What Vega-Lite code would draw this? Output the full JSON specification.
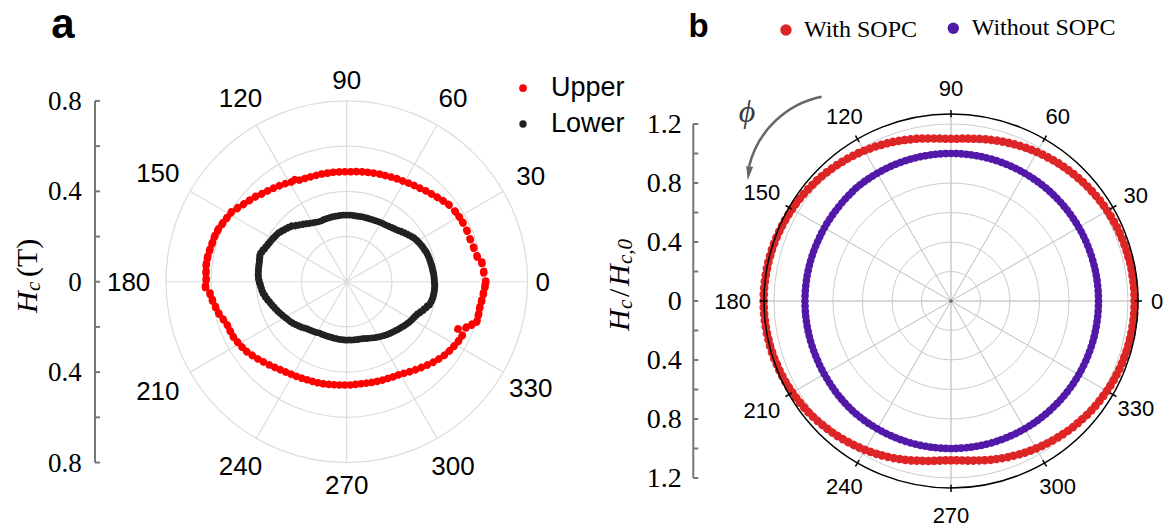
{
"$schema":"https://vega.github.io/schema/vega-lite/v6.json",
"width":1171,"height":529,"autosize":{"type":"none"},"padding":0,"background":"#ffffff",
"config":{"view":{"stroke":null}},
"datasets":{
"spokes":[{"a":0},{"a":30},{"a":60},{"a":90},{"a":120},{"a":150},{"a":180},{"a":210},{"a":240},{"a":270},{"a":300},{"a":330}],
"ringsA":[{"r":0.2},{"r":0.4},{"r":0.6},{"r":0.8}],
"ringsB":[{"r":0.2},{"r":0.4},{"r":0.6},{"r":0.8},{"r":1.0},{"r":1.2}],
"one":[{}],
"axA":[{"lo":-0.8,"hi":0.8}],
"axB":[{"lo":-1.2,"hi":1.2}],
"ticksA":[{"v":-0.8,"t":"0.8"},{"v":-0.6,"t":""},{"v":-0.4,"t":"0.4"},{"v":-0.2,"t":""},{"v":0,"t":"0"},{"v":0.2,"t":""},{"v":0.4,"t":"0.4"},{"v":0.6,"t":""},{"v":0.8,"t":"0.8"}],
"ticksB":[{"v":-1.2,"t":"1.2"},{"v":-1,"t":""},{"v":-0.8,"t":"0.8"},{"v":-0.6,"t":""},{"v":-0.4,"t":"0.4"},{"v":-0.2,"t":""},{"v":0,"t":"0"},{"v":0.2,"t":""},{"v":0.4,"t":"0.4"},{"v":0.6,"t":""},{"v":0.8,"t":"0.8"},{"v":1,"t":""},{"v":1.2,"t":"1.2"}],
"upper":[{"a":0,"r":0.615},{"a":4,"r":0.608},{"a":8,"r":0.604},{"a":11,"r":0.588},{"a":15,"r":0.582},{"a":19,"r":0.578},{"a":23,"r":0.578},{"a":27,"r":0.577},{"a":30,"r":0.575},{"a":33,"r":0.572},{"a":37,"r":0.566},{"a":40,"r":0.557},{"a":43,"r":0.548},{"a":46,"r":0.54},{"a":49,"r":0.533},{"a":52,"r":0.526},{"a":55,"r":0.52},{"a":58,"r":0.515},{"a":61,"r":0.51},{"a":64,"r":0.507},{"a":67,"r":0.503},{"a":70,"r":0.5},{"a":73,"r":0.498},{"a":76,"r":0.495},{"a":79,"r":0.493},{"a":82,"r":0.491},{"a":85,"r":0.489},{"a":88,"r":0.487},{"a":91,"r":0.487},{"a":94,"r":0.487},{"a":97,"r":0.488},{"a":100,"r":0.488},{"a":103,"r":0.489},{"a":106,"r":0.49},{"a":109,"r":0.491},{"a":112,"r":0.493},{"a":115,"r":0.496},{"a":117,"r":0.507},{"a":119,"r":0.505},{"a":122,"r":0.512},{"a":125,"r":0.519},{"a":128,"r":0.526},{"a":131,"r":0.533},{"a":134,"r":0.541},{"a":137,"r":0.552},{"a":140,"r":0.561},{"a":143,"r":0.571},{"a":146,"r":0.583},{"a":149,"r":0.596},{"a":152,"r":0.601},{"a":155,"r":0.607},{"a":158,"r":0.614},{"a":161,"r":0.618},{"a":164,"r":0.619},{"a":167,"r":0.622},{"a":170,"r":0.625},{"a":173,"r":0.626},{"a":176,"r":0.624},{"a":179,"r":0.622},{"a":182,"r":0.625},{"a":185,"r":0.607},{"a":188,"r":0.6},{"a":191,"r":0.591},{"a":194,"r":0.583},{"a":197,"r":0.571},{"a":200,"r":0.562},{"a":203,"r":0.56},{"a":206,"r":0.558},{"a":209,"r":0.552},{"a":212,"r":0.546},{"a":215,"r":0.54},{"a":218,"r":0.53},{"a":221,"r":0.521},{"a":224,"r":0.512},{"a":227,"r":0.503},{"a":230,"r":0.495},{"a":233,"r":0.488},{"a":236,"r":0.482},{"a":239,"r":0.477},{"a":242,"r":0.474},{"a":245,"r":0.471},{"a":248,"r":0.468},{"a":251,"r":0.466},{"a":254,"r":0.465},{"a":257,"r":0.463},{"a":260,"r":0.461},{"a":263,"r":0.459},{"a":266,"r":0.458},{"a":269,"r":0.457},{"a":272,"r":0.457},{"a":275,"r":0.456},{"a":278,"r":0.456},{"a":281,"r":0.457},{"a":284,"r":0.459},{"a":287,"r":0.461},{"a":290,"r":0.463},{"a":293,"r":0.465},{"a":296,"r":0.468},{"a":299,"r":0.471},{"a":302,"r":0.478},{"a":305,"r":0.486},{"a":308,"r":0.494},{"a":311,"r":0.503},{"a":314,"r":0.513},{"a":317,"r":0.523},{"a":320,"r":0.532},{"a":323,"r":0.541},{"a":326,"r":0.548},{"a":329,"r":0.554},{"a":332,"r":0.56},{"a":335,"r":0.564},{"a":337,"r":0.535},{"a":339,"r":0.566},{"a":341,"r":0.585},{"a":343,"r":0.602},{"a":346,"r":0.601},{"a":349,"r":0.6},{"a":352,"r":0.603},{"a":355,"r":0.607},{"a":358,"r":0.612}],
"lower":[{"a":0,"r":0.388},{"a":2.5,"r":0.387},{"a":5,"r":0.386},{"a":7.5,"r":0.384},{"a":10,"r":0.383},{"a":12.5,"r":0.381},{"a":15,"r":0.38},{"a":17.5,"r":0.378},{"a":20,"r":0.376},{"a":22.5,"r":0.372},{"a":25,"r":0.369},{"a":27.5,"r":0.365},{"a":30,"r":0.361},{"a":32.5,"r":0.356},{"a":35,"r":0.349},{"a":37.5,"r":0.342},{"a":40,"r":0.335},{"a":42.5,"r":0.328},{"a":45,"r":0.321},{"a":47.5,"r":0.316},{"a":50,"r":0.312},{"a":52.5,"r":0.308},{"a":55,"r":0.305},{"a":57.5,"r":0.303},{"a":60,"r":0.302},{"a":62.5,"r":0.3},{"a":65,"r":0.298},{"a":67.5,"r":0.297},{"a":70,"r":0.296},{"a":72.5,"r":0.296},{"a":75,"r":0.295},{"a":77.5,"r":0.295},{"a":80,"r":0.294},{"a":82.5,"r":0.294},{"a":85,"r":0.295},{"a":87.5,"r":0.295},{"a":90,"r":0.295},{"a":92.5,"r":0.295},{"a":95,"r":0.295},{"a":97.5,"r":0.294},{"a":100,"r":0.294},{"a":102.5,"r":0.294},{"a":105,"r":0.293},{"a":107.5,"r":0.293},{"a":110,"r":0.293},{"a":112.5,"r":0.292},{"a":115,"r":0.293},{"a":117.5,"r":0.297},{"a":120,"r":0.301},{"a":122.5,"r":0.306},{"a":125,"r":0.313},{"a":127.5,"r":0.32},{"a":130,"r":0.328},{"a":132.5,"r":0.336},{"a":135,"r":0.347},{"a":137.5,"r":0.353},{"a":140,"r":0.359},{"a":142.5,"r":0.366},{"a":145,"r":0.372},{"a":147.5,"r":0.375},{"a":150,"r":0.379},{"a":152.5,"r":0.382},{"a":155,"r":0.386},{"a":157.5,"r":0.391},{"a":160,"r":0.397},{"a":162.5,"r":0.402},{"a":165,"r":0.399},{"a":167.5,"r":0.396},{"a":170,"r":0.395},{"a":172.5,"r":0.394},{"a":175,"r":0.393},{"a":177.5,"r":0.391},{"a":180,"r":0.387},{"a":182.5,"r":0.382},{"a":185,"r":0.378},{"a":187.5,"r":0.374},{"a":190,"r":0.367},{"a":192.5,"r":0.36},{"a":195,"r":0.352},{"a":197.5,"r":0.346},{"a":200,"r":0.339},{"a":202.5,"r":0.333},{"a":205,"r":0.327},{"a":207.5,"r":0.321},{"a":210,"r":0.315},{"a":212.5,"r":0.31},{"a":215,"r":0.306},{"a":217.5,"r":0.301},{"a":220,"r":0.295},{"a":222.5,"r":0.289},{"a":225,"r":0.284},{"a":227.5,"r":0.278},{"a":230,"r":0.272},{"a":232.5,"r":0.269},{"a":235,"r":0.266},{"a":237.5,"r":0.263},{"a":240,"r":0.26},{"a":242.5,"r":0.257},{"a":245,"r":0.257},{"a":247.5,"r":0.256},{"a":250,"r":0.256},{"a":252.5,"r":0.255},{"a":255,"r":0.255},{"a":257.5,"r":0.256},{"a":260,"r":0.256},{"a":262.5,"r":0.257},{"a":265,"r":0.257},{"a":267.5,"r":0.258},{"a":270,"r":0.258},{"a":272.5,"r":0.258},{"a":275,"r":0.259},{"a":277.5,"r":0.259},{"a":280,"r":0.26},{"a":282.5,"r":0.26},{"a":285,"r":0.261},{"a":287.5,"r":0.263},{"a":290,"r":0.267},{"a":292.5,"r":0.27},{"a":295,"r":0.274},{"a":297.5,"r":0.278},{"a":300,"r":0.282},{"a":302.5,"r":0.286},{"a":305,"r":0.29},{"a":307.5,"r":0.294},{"a":310,"r":0.298},{"a":312.5,"r":0.302},{"a":315,"r":0.306},{"a":317.5,"r":0.311},{"a":320,"r":0.315},{"a":322.5,"r":0.32},{"a":325,"r":0.325},{"a":327.5,"r":0.33},{"a":330,"r":0.334},{"a":332.5,"r":0.338},{"a":335,"r":0.343},{"a":337.5,"r":0.352},{"a":340,"r":0.362},{"a":342.5,"r":0.371},{"a":345,"r":0.381},{"a":347.5,"r":0.385},{"a":350,"r":0.388},{"a":352.5,"r":0.389},{"a":355,"r":0.39},{"a":357.5,"r":0.39}],
"withS":[{"a":0,"r":1.245},{"a":2,"r":1.245},{"a":4,"r":1.245},{"a":6,"r":1.244},{"a":8,"r":1.243},{"a":10,"r":1.243},{"a":12,"r":1.242},{"a":14,"r":1.24},{"a":16,"r":1.239},{"a":18,"r":1.237},{"a":20,"r":1.235},{"a":22,"r":1.233},{"a":24,"r":1.231},{"a":26,"r":1.229},{"a":28,"r":1.226},{"a":30,"r":1.224},{"a":32,"r":1.221},{"a":34,"r":1.218},{"a":36,"r":1.215},{"a":38,"r":1.211},{"a":40,"r":1.208},{"a":42,"r":1.204},{"a":44,"r":1.2},{"a":46,"r":1.196},{"a":48,"r":1.192},{"a":50,"r":1.188},{"a":52,"r":1.184},{"a":54,"r":1.18},{"a":56,"r":1.175},{"a":58,"r":1.17},{"a":60,"r":1.166},{"a":62,"r":1.161},{"a":64,"r":1.156},{"a":66,"r":1.151},{"a":68,"r":1.146},{"a":70,"r":1.141},{"a":72,"r":1.136},{"a":74,"r":1.131},{"a":76,"r":1.126},{"a":78,"r":1.121},{"a":80,"r":1.116},{"a":82,"r":1.111},{"a":84,"r":1.107},{"a":86,"r":1.104},{"a":88,"r":1.101},{"a":90,"r":1.1},{"a":92,"r":1.101},{"a":94,"r":1.104},{"a":96,"r":1.108},{"a":98,"r":1.113},{"a":100,"r":1.119},{"a":102,"r":1.125},{"a":104,"r":1.13},{"a":106,"r":1.136},{"a":108,"r":1.142},{"a":110,"r":1.148},{"a":112,"r":1.154},{"a":114,"r":1.16},{"a":116,"r":1.166},{"a":118,"r":1.171},{"a":120,"r":1.177},{"a":122,"r":1.183},{"a":124,"r":1.188},{"a":126,"r":1.193},{"a":128,"r":1.198},{"a":130,"r":1.203},{"a":132,"r":1.208},{"a":134,"r":1.213},{"a":136,"r":1.218},{"a":138,"r":1.222},{"a":140,"r":1.226},{"a":142,"r":1.23},{"a":144,"r":1.234},{"a":146,"r":1.238},{"a":148,"r":1.242},{"a":150,"r":1.245},{"a":152,"r":1.248},{"a":154,"r":1.251},{"a":156,"r":1.254},{"a":158,"r":1.256},{"a":160,"r":1.259},{"a":162,"r":1.261},{"a":164,"r":1.263},{"a":166,"r":1.264},{"a":168,"r":1.266},{"a":170,"r":1.267},{"a":172,"r":1.268},{"a":174,"r":1.269},{"a":176,"r":1.27},{"a":178,"r":1.27},{"a":180,"r":1.27},{"a":182,"r":1.27},{"a":184,"r":1.27},{"a":186,"r":1.269},{"a":188,"r":1.268},{"a":190,"r":1.267},{"a":192,"r":1.265},{"a":194,"r":1.264},{"a":196,"r":1.262},{"a":198,"r":1.26},{"a":200,"r":1.257},{"a":202,"r":1.255},{"a":204,"r":1.252},{"a":206,"r":1.249},{"a":208,"r":1.246},{"a":210,"r":1.242},{"a":212,"r":1.238},{"a":214,"r":1.234},{"a":216,"r":1.23},{"a":218,"r":1.226},{"a":220,"r":1.221},{"a":222,"r":1.216},{"a":224,"r":1.211},{"a":226,"r":1.206},{"a":228,"r":1.201},{"a":230,"r":1.196},{"a":232,"r":1.19},{"a":234,"r":1.184},{"a":236,"r":1.178},{"a":238,"r":1.172},{"a":240,"r":1.166},{"a":242,"r":1.16},{"a":244,"r":1.153},{"a":246,"r":1.147},{"a":248,"r":1.14},{"a":250,"r":1.134},{"a":252,"r":1.127},{"a":254,"r":1.121},{"a":256,"r":1.114},{"a":258,"r":1.107},{"a":260,"r":1.101},{"a":262,"r":1.095},{"a":264,"r":1.089},{"a":266,"r":1.085},{"a":268,"r":1.081},{"a":270,"r":1.08},{"a":272,"r":1.081},{"a":274,"r":1.084},{"a":276,"r":1.088},{"a":278,"r":1.093},{"a":280,"r":1.098},{"a":282,"r":1.104},{"a":284,"r":1.11},{"a":286,"r":1.115},{"a":288,"r":1.121},{"a":290,"r":1.127},{"a":292,"r":1.132},{"a":294,"r":1.138},{"a":296,"r":1.144},{"a":298,"r":1.149},{"a":300,"r":1.155},{"a":302,"r":1.16},{"a":304,"r":1.165},{"a":306,"r":1.17},{"a":308,"r":1.175},{"a":310,"r":1.18},{"a":312,"r":1.185},{"a":314,"r":1.19},{"a":316,"r":1.194},{"a":318,"r":1.198},{"a":320,"r":1.203},{"a":322,"r":1.207},{"a":324,"r":1.21},{"a":326,"r":1.214},{"a":328,"r":1.217},{"a":330,"r":1.221},{"a":332,"r":1.224},{"a":334,"r":1.227},{"a":336,"r":1.229},{"a":338,"r":1.232},{"a":340,"r":1.234},{"a":342,"r":1.236},{"a":344,"r":1.238},{"a":346,"r":1.24},{"a":348,"r":1.241},{"a":350,"r":1.242},{"a":352,"r":1.243},{"a":354,"r":1.244},{"a":356,"r":1.245},{"a":358,"r":1.245}],
"withoutS":[{"a":0,"r":1},{"a":2,"r":1},{"a":4,"r":1},{"a":6,"r":1},{"a":8,"r":1},{"a":10,"r":1},{"a":12,"r":1},{"a":14,"r":1},{"a":16,"r":1},{"a":18,"r":1},{"a":20,"r":1},{"a":22,"r":1},{"a":24,"r":1},{"a":26,"r":1},{"a":28,"r":1},{"a":30,"r":1},{"a":32,"r":1},{"a":34,"r":1},{"a":36,"r":1},{"a":38,"r":1},{"a":40,"r":1},{"a":42,"r":1},{"a":44,"r":1},{"a":46,"r":1},{"a":48,"r":1},{"a":50,"r":1},{"a":52,"r":1},{"a":54,"r":1},{"a":56,"r":1},{"a":58,"r":1},{"a":60,"r":1},{"a":62,"r":1},{"a":64,"r":1},{"a":66,"r":1},{"a":68,"r":1},{"a":70,"r":1},{"a":72,"r":1},{"a":74,"r":1},{"a":76,"r":1},{"a":78,"r":1},{"a":80,"r":1},{"a":82,"r":1},{"a":84,"r":1},{"a":86,"r":1},{"a":88,"r":1},{"a":90,"r":1},{"a":92,"r":1},{"a":94,"r":1},{"a":96,"r":1},{"a":98,"r":1},{"a":100,"r":1},{"a":102,"r":1},{"a":104,"r":1},{"a":106,"r":1},{"a":108,"r":1},{"a":110,"r":1},{"a":112,"r":1},{"a":114,"r":1},{"a":116,"r":1},{"a":118,"r":1},{"a":120,"r":1},{"a":122,"r":1},{"a":124,"r":1},{"a":126,"r":1},{"a":128,"r":1},{"a":130,"r":1},{"a":132,"r":0.998},{"a":134,"r":0.997},{"a":136,"r":0.996},{"a":138,"r":0.995},{"a":140,"r":0.994},{"a":142,"r":0.993},{"a":144,"r":0.993},{"a":146,"r":0.992},{"a":148,"r":0.992},{"a":150,"r":0.991},{"a":152,"r":0.991},{"a":154,"r":0.99},{"a":156,"r":0.99},{"a":158,"r":0.99},{"a":160,"r":0.99},{"a":162,"r":0.99},{"a":164,"r":0.99},{"a":166,"r":0.99},{"a":168,"r":0.99},{"a":170,"r":0.99},{"a":172,"r":0.99},{"a":174,"r":0.99},{"a":176,"r":0.99},{"a":178,"r":0.99},{"a":180,"r":0.99},{"a":182,"r":0.99},{"a":184,"r":0.99},{"a":186,"r":0.99},{"a":188,"r":0.99},{"a":190,"r":0.99},{"a":192,"r":0.99},{"a":194,"r":0.99},{"a":196,"r":0.99},{"a":198,"r":0.99},{"a":200,"r":0.99},{"a":202,"r":0.99},{"a":204,"r":0.99},{"a":206,"r":0.991},{"a":208,"r":0.991},{"a":210,"r":0.992},{"a":212,"r":0.992},{"a":214,"r":0.993},{"a":216,"r":0.994},{"a":218,"r":0.995},{"a":220,"r":0.996},{"a":222,"r":0.997},{"a":224,"r":0.998},{"a":226,"r":0.999},{"a":228,"r":1},{"a":230,"r":1},{"a":232,"r":1},{"a":234,"r":1},{"a":236,"r":1},{"a":238,"r":1},{"a":240,"r":1},{"a":242,"r":1},{"a":244,"r":1},{"a":246,"r":1},{"a":248,"r":1},{"a":250,"r":1},{"a":252,"r":1},{"a":254,"r":1},{"a":256,"r":1},{"a":258,"r":1},{"a":260,"r":1},{"a":262,"r":1},{"a":264,"r":1},{"a":266,"r":1},{"a":268,"r":1},{"a":270,"r":1},{"a":272,"r":1},{"a":274,"r":1},{"a":276,"r":1},{"a":278,"r":1},{"a":280,"r":1},{"a":282,"r":1},{"a":284,"r":1},{"a":286,"r":1},{"a":288,"r":1},{"a":290,"r":1},{"a":292,"r":1},{"a":294,"r":1},{"a":296,"r":1},{"a":298,"r":1},{"a":300,"r":1},{"a":302,"r":1},{"a":304,"r":1},{"a":306,"r":1},{"a":308,"r":1},{"a":310,"r":1},{"a":312,"r":1},{"a":314,"r":1},{"a":316,"r":1},{"a":318,"r":1},{"a":320,"r":1},{"a":322,"r":1},{"a":324,"r":1},{"a":326,"r":1},{"a":328,"r":1},{"a":330,"r":1},{"a":332,"r":1},{"a":334,"r":1},{"a":336,"r":1},{"a":338,"r":1},{"a":340,"r":1},{"a":342,"r":1},{"a":344,"r":1},{"a":346,"r":1},{"a":348,"r":1},{"a":350,"r":1},{"a":352,"r":1},{"a":354,"r":1},{"a":356,"r":1},{"a":358,"r":1}]
},
"layer":[
{"layer":[
 {"data":{"name":"axA"},"mark":{"type":"rule","color":"#777777","strokeWidth":2},
  "encoding":{"x":{"datum":-1.1137,"type":"quantitative","scale":{"domain":[-1.534,3.647],"nice":false,"zero":false},"axis":null},
   "y":{"field":"lo","type":"quantitative","scale":{"domain":[-1.094,1.2465],"nice":false,"zero":false},"axis":null},
   "y2":{"field":"hi"}}},
 {"data":{"name":"ticksA"},"mark":{"type":"rule","color":"#777777","strokeWidth":2},
  "encoding":{"x":{"datum":-1.1137,"type":"quantitative","axis":null},"x2":{"datum":-1.0916},
   "y":{"field":"v","type":"quantitative","axis":null}}},
 {"data":{"name":"ticksA"},"mark":{"type":"text","font":"Liberation Serif","fontSize":27,"color":"#000000","align":"right","baseline":"middle","dy":1},
  "encoding":{"x":{"datum":-1.1726,"type":"quantitative","axis":null},
   "y":{"field":"v","type":"quantitative","axis":null},"text":{"field":"t","type":"nominal"}}},
 {"data":{"name":"ringsA"},"mark":{"type":"arc","filled":false,"stroke":"#dcdcdc","strokeWidth":1.2,"theta":0,"theta2":6.283185307179586},
  "encoding":{"x":{"datum":0,"type":"quantitative","axis":null},
   "y":{"datum":0,"type":"quantitative","axis":null},
   "radius":{"field":"r","type":"quantitative","stack":null,"scale":{"type":"linear","domain":[0,1],"range":[0,226],"zero":true,"nice":false}}}},
 {"data":{"name":"spokes"},"mark":{"type":"arc","filled":false,"stroke":"#dcdcdc","strokeWidth":1.2},
  "encoding":{"x":{"datum":0,"type":"quantitative","axis":null},"y":{"datum":0,"type":"quantitative","axis":null},
   "theta":{"field":"a","type":"quantitative","stack":null,"scale":{"domain":[90,-270],"range":[0,6.283185307179586],"nice":false,"zero":false}},
   "theta2":{"field":"a"},
   "radius":{"datum":0.8,"type":"quantitative"}}},
 {"data":{"name":"lower"},"mark":{"type":"arc","color":"#222222","thetaOffset":-0.05,"theta2Offset":0.05,"radiusOffset":3.4,"radius2Offset":-3.4,"cornerRadius":3.4},
  "encoding":{"x":{"datum":0,"type":"quantitative","axis":null},"y":{"datum":0,"type":"quantitative","axis":null},
   "theta":{"field":"a","type":"quantitative","stack":null},"theta2":{"field":"a"},"radius":{"field":"r","type":"quantitative","stack":null},"radius2":{"field":"r"}}},
 {"data":{"name":"upper"},"mark":{"type":"arc","color":"#ff0000","thetaOffset":-0.033,"theta2Offset":0.033,"radiusOffset":3.8,"radius2Offset":-3.8,"cornerRadius":3.8},
  "encoding":{"x":{"datum":0,"type":"quantitative","axis":null},"y":{"datum":0,"type":"quantitative","axis":null},
   "theta":{"field":"a","type":"quantitative","stack":null},"theta2":{"field":"a"},"radius":{"field":"r","type":"quantitative","stack":null},"radius2":{"field":"r"}}},
 {"data":{"name":"spokes"},"transform":[{"filter":"datum.a == 0"}],"mark":{"type":"text","font":"Liberation Sans","fontSize":26,"color":"#000000","align":"center","baseline":"middle","dy":1.5},
  "encoding":{"x":{"datum":0,"type":"quantitative","axis":null},"y":{"datum":0,"type":"quantitative","axis":null},
   "theta":{"field":"a","type":"quantitative","stack":null},"radius":{"datum":0.867,"type":"quantitative"},"text":{"field":"a","type":"nominal"}}},
 {"data":{"name":"spokes"},"transform":[{"filter":"datum.a >= 150 && datum.a <= 210"}],"mark":{"type":"text","font":"Liberation Sans","fontSize":26,"color":"#000000","align":"center","baseline":"middle","dy":1.5},
  "encoding":{"x":{"datum":0,"type":"quantitative","axis":null},"y":{"datum":0,"type":"quantitative","axis":null},
   "theta":{"field":"a","type":"quantitative","stack":null},"radius":{"datum":0.965,"type":"quantitative"},"text":{"field":"a","type":"nominal"}}},
 {"data":{"name":"spokes"},"transform":[{"filter":"datum.a == 90 || datum.a == 270"}],"mark":{"type":"text","font":"Liberation Sans","fontSize":26,"color":"#000000","align":"center","baseline":"middle","dy":1.5},
  "encoding":{"x":{"datum":0,"type":"quantitative","axis":null},"y":{"datum":0,"type":"quantitative","axis":null},
   "theta":{"field":"a","type":"quantitative","stack":null},"radius":{"datum":0.896,"type":"quantitative"},"text":{"field":"a","type":"nominal"}}},
 {"data":{"name":"spokes"},"transform":[{"filter":"datum.a != 0 && datum.a != 90 && datum.a != 270 && (datum.a < 150 || datum.a > 210)"}],"mark":{"type":"text","font":"Liberation Sans","fontSize":26,"color":"#000000","align":"center","baseline":"middle","dy":1.5},
  "encoding":{"x":{"datum":0,"type":"quantitative","axis":null},"y":{"datum":0,"type":"quantitative","axis":null},
   "theta":{"field":"a","type":"quantitative","stack":null},"radius":{"datum":0.94,"type":"quantitative"},"text":{"field":"a","type":"nominal"}}},
 {"data":{"name":"one"},"mark":{"type":"text","text":"H","font":"Liberation Serif","fontStyle":"italic","fontSize":30,"angle":270,"align":"left","baseline":"alphabetic","color":"#000000"},
  "encoding":{"x":{"datum":-1.3704,"type":"quantitative","axis":null},"y":{"datum":-0.1385,"type":"quantitative","axis":null}}},
 {"data":{"name":"one"},"mark":{"type":"text","text":"c","font":"Liberation Serif","fontStyle":"italic","fontSize":21,"angle":270,"align":"left","baseline":"alphabetic","color":"#000000"},
  "encoding":{"x":{"datum":-1.3571,"type":"quantitative","axis":null},"y":{"datum":-0.0412,"type":"quantitative","axis":null}}},
 {"data":{"name":"one"},"mark":{"type":"text","text":"(T)","font":"Liberation Serif","fontSize":30,"angle":270,"align":"left","baseline":"alphabetic","color":"#000000"},
  "encoding":{"x":{"datum":-1.3704,"type":"quantitative","axis":null},"y":{"datum":0.0208,"type":"quantitative","axis":null}}},
 {"data":{"name":"one"},"mark":{"type":"point","filled":true,"size":60,"color":"#ff0000","opacity":1},
  "encoding":{"x":{"datum":0.78,"type":"quantitative","axis":null},"y":{"datum":0.857,"type":"quantitative","axis":null}}},
 {"data":{"name":"one"},"mark":{"type":"point","filled":true,"size":55,"color":"#222222","opacity":1},
  "encoding":{"x":{"datum":0.78,"type":"quantitative","axis":null},"y":{"datum":0.698,"type":"quantitative","axis":null}}},
 {"data":{"name":"one"},"mark":{"type":"text","text":"Upper","font":"Liberation Sans","fontSize":27,"align":"left","baseline":"middle","color":"#000000"},
  "encoding":{"x":{"datum":0.904,"type":"quantitative","axis":null},"y":{"datum":0.857,"type":"quantitative","axis":null}}},
 {"data":{"name":"one"},"mark":{"type":"text","text":"Lower","font":"Liberation Sans","fontSize":27,"align":"left","baseline":"middle","color":"#000000"},
  "encoding":{"x":{"datum":0.904,"type":"quantitative","axis":null},"y":{"datum":0.698,"type":"quantitative","axis":null}}},
 {"data":{"name":"one"},"mark":{"type":"text","text":"a","font":"Liberation Sans","fontWeight":"bold","fontSize":42,"align":"center","baseline":"alphabetic","color":"#000000"},
  "encoding":{"x":{"datum":-1.2553,"type":"quantitative","axis":null},"y":{"datum":1.0783,"type":"quantitative","axis":null}}}
]},
{"layer":[
 {"data":{"name":"axB"},"mark":{"type":"rule","color":"#777777","strokeWidth":2},
  "encoding":{"x":{"datum":-1.7471,"type":"quantitative","scale":{"domain":[-6.447,1.4915],"nice":false,"zero":false},"axis":null},
   "y":{"field":"lo","type":"quantitative","scale":{"domain":[-1.5458,2.0407],"nice":false,"zero":false},"axis":null},
   "y2":{"field":"hi"}}},
 {"data":{"name":"ticksB"},"mark":{"type":"rule","color":"#777777","strokeWidth":2},
  "encoding":{"x":{"datum":-1.7471,"type":"quantitative","axis":null},"x2":{"datum":-1.7132},
   "y":{"field":"v","type":"quantitative","axis":null}}},
 {"data":{"name":"ticksB"},"mark":{"type":"text","font":"Liberation Serif","fontSize":28,"color":"#000000","align":"right","baseline":"middle","dy":1},
  "encoding":{"x":{"datum":-1.8258,"type":"quantitative","axis":null},
   "y":{"field":"v","type":"quantitative","axis":null},"text":{"field":"t","type":"nominal"}}},
 {"data":{"name":"ringsB"},"mark":{"type":"arc","filled":false,"stroke":"#cccccc","strokeWidth":1,"theta":0,"theta2":6.283185307179586},
  "encoding":{"x":{"datum":0,"type":"quantitative","axis":null},
   "y":{"datum":0,"type":"quantitative","axis":null},
   "radius":{"field":"r","type":"quantitative","stack":null,"scale":{"type":"linear","domain":[0,1],"range":[0,147.5],"zero":true,"nice":false}}}},
 {"data":{"name":"spokes"},"mark":{"type":"arc","filled":false,"stroke":"#cccccc","strokeWidth":1},
  "encoding":{"x":{"datum":0,"type":"quantitative","axis":null},"y":{"datum":0,"type":"quantitative","axis":null},
   "theta":{"field":"a","type":"quantitative","stack":null,"scale":{"domain":[90,-270],"range":[0,6.283185307179586],"nice":false,"zero":false}},
   "theta2":{"field":"a"},
   "radius":{"datum":1.268,"type":"quantitative"}}},
 {"data":{"name":"withS"},"mark":{"type":"arc","color":"#de2526","thetaOffset":-0.024,"theta2Offset":0.024,"radiusOffset":4.3,"radius2Offset":-4.3,"cornerRadius":4.3},
  "encoding":{"x":{"datum":0,"type":"quantitative","axis":null},"y":{"datum":0,"type":"quantitative","axis":null},
   "theta":{"field":"a","type":"quantitative","stack":null},"theta2":{"field":"a"},"radius":{"field":"r","type":"quantitative","stack":null},"radius2":{"field":"r"}}},
 {"data":{"name":"withoutS"},"mark":{"type":"arc","color":"#5219a8","thetaOffset":-0.026,"theta2Offset":0.026,"radiusOffset":3.8,"radius2Offset":-3.8,"cornerRadius":3.8},
  "encoding":{"x":{"datum":0,"type":"quantitative","axis":null},"y":{"datum":0,"type":"quantitative","axis":null},
   "theta":{"field":"a","type":"quantitative","stack":null},"theta2":{"field":"a"},"radius":{"field":"r","type":"quantitative","stack":null},"radius2":{"field":"r"}}},
 {"data":{"name":"one"},"mark":{"type":"arc","filled":false,"stroke":"#000000","strokeWidth":1.5,"theta":0,"theta2":6.283185307179586},
  "encoding":{"x":{"datum":0,"type":"quantitative","axis":null},"y":{"datum":0,"type":"quantitative","axis":null},"radius":{"datum":1.268,"type":"quantitative"}}},
 {"data":{"name":"spokes"},"mark":{"type":"arc","filled":false,"stroke":"#000000","strokeWidth":1.5},
  "encoding":{"x":{"datum":0,"type":"quantitative","axis":null},"y":{"datum":0,"type":"quantitative","axis":null},
   "theta":{"field":"a","type":"quantitative","stack":null},"theta2":{"field":"a"},
   "radius":{"datum":1.295,"type":"quantitative"},"radius2":{"datum":1.245}}},
 {"data":{"name":"one"},"mark":{"type":"point","filled":true,"size":12,"color":"#666666","opacity":1},
  "encoding":{"x":{"datum":0,"type":"quantitative","axis":null},"y":{"datum":0,"type":"quantitative","axis":null}}},
 {"data":{"name":"spokes"},"transform":[{"filter":"datum.a == 0"}],"mark":{"type":"text","font":"Liberation Sans","fontSize":22,"color":"#000000","align":"center","baseline":"middle","dy":1.3},
  "encoding":{"x":{"datum":0,"type":"quantitative","axis":null},"y":{"datum":0,"type":"quantitative","axis":null},
   "theta":{"field":"a","type":"quantitative","stack":null},"radius":{"datum":1.397,"type":"quantitative"},"text":{"field":"a","type":"nominal"}}},
 {"data":{"name":"spokes"},"transform":[{"filter":"datum.a >= 150 && datum.a <= 210"}],"mark":{"type":"text","font":"Liberation Sans","fontSize":22,"color":"#000000","align":"center","baseline":"middle","dy":1.3},
  "encoding":{"x":{"datum":0,"type":"quantitative","axis":null},"y":{"datum":0,"type":"quantitative","axis":null},
   "theta":{"field":"a","type":"quantitative","stack":null},"radius":{"datum":1.48,"type":"quantitative"},"text":{"field":"a","type":"nominal"}}},
 {"data":{"name":"spokes"},"transform":[{"filter":"datum.a != 0 && (datum.a < 150 || datum.a > 210)"}],"mark":{"type":"text","font":"Liberation Sans","fontSize":22,"color":"#000000","align":"center","baseline":"middle","dy":1.3},
  "encoding":{"x":{"datum":0,"type":"quantitative","axis":null},"y":{"datum":0,"type":"quantitative","axis":null},
   "theta":{"field":"a","type":"quantitative","stack":null},"radius":{"datum":1.447,"type":"quantitative"},"text":{"field":"a","type":"nominal"}}},
 {"data":{"name":"one"},"mark":{"type":"text","text":"H","font":"Liberation Serif","fontStyle":"italic","fontSize":30,"angle":270,"align":"left","baseline":"alphabetic","color":"#000000"},
  "encoding":{"x":{"datum":-2.183,"type":"quantitative","axis":null},"y":{"datum":-0.2034,"type":"quantitative","axis":null}}},
 {"data":{"name":"one"},"mark":{"type":"text","text":"c","font":"Liberation Serif","fontStyle":"italic","fontSize":21,"angle":270,"align":"left","baseline":"alphabetic","color":"#000000"},
  "encoding":{"x":{"datum":-2.1627,"type":"quantitative","axis":null},"y":{"datum":-0.0542,"type":"quantitative","axis":null}}},
 {"data":{"name":"one"},"mark":{"type":"text","text":"/","font":"Liberation Serif","fontSize":30,"angle":270,"align":"left","baseline":"alphabetic","color":"#000000"},
  "encoding":{"x":{"datum":-2.183,"type":"quantitative","axis":null},"y":{"datum":0.0271,"type":"quantitative","axis":null}}},
 {"data":{"name":"one"},"mark":{"type":"text","text":"H","font":"Liberation Serif","fontStyle":"italic","fontSize":30,"angle":270,"align":"left","baseline":"alphabetic","color":"#000000"},
  "encoding":{"x":{"datum":-2.183,"type":"quantitative","axis":null},"y":{"datum":0.1017,"type":"quantitative","axis":null}}},
 {"data":{"name":"one"},"mark":{"type":"text","text":"c,0","font":"Liberation Serif","fontStyle":"italic","fontSize":21,"angle":270,"align":"left","baseline":"alphabetic","color":"#000000"},
  "encoding":{"x":{"datum":-2.1627,"type":"quantitative","axis":null},"y":{"datum":0.2508,"type":"quantitative","axis":null}}},
 {"data":{"name":"one"},"mark":{"type":"point","filled":true,"size":130,"color":"#de2526","opacity":1},
  "encoding":{"x":{"datum":-1.1186,"type":"quantitative","axis":null},"y":{"datum":1.8373,"type":"quantitative","axis":null}}},
 {"data":{"name":"one"},"mark":{"type":"point","filled":true,"size":130,"color":"#5219a8","opacity":1},
  "encoding":{"x":{"datum":0.0156,"type":"quantitative","axis":null},"y":{"datum":1.849,"type":"quantitative","axis":null}}},
 {"data":{"name":"one"},"mark":{"type":"text","text":"With SOPC","font":"Liberation Serif","fontSize":24,"align":"left","baseline":"middle","color":"#000000"},
  "encoding":{"x":{"datum":-0.9966,"type":"quantitative","axis":null},"y":{"datum":1.8373,"type":"quantitative","axis":null}}},
 {"data":{"name":"one"},"mark":{"type":"text","text":"Without SOPC","font":"Liberation Serif","fontSize":24,"align":"left","baseline":"middle","color":"#000000"},
  "encoding":{"x":{"datum":0.1403,"type":"quantitative","axis":null},"y":{"datum":1.849,"type":"quantitative","axis":null}}},
 {"data":{"name":"one"},"mark":{"type":"text","text":"b","font":"Liberation Sans","fontWeight":"bold","fontSize":33,"align":"center","baseline":"alphabetic","color":"#000000"},
  "encoding":{"x":{"datum":-1.7119,"type":"quantitative","axis":null},"y":{"datum":1.7898,"type":"quantitative","axis":null}}},
 {"data":{"name":"one"},"mark":{"type":"arc","filled":false,"stroke":"#666666","strokeWidth":2.5},
  "encoding":{"x":{"datum":-0.7512,"type":"quantitative","axis":null},"y":{"datum":0.7614,"type":"quantitative","axis":null},
   "theta":{"datum":-258.6,"type":"quantitative"},"theta2":{"datum":-193.9},
   "radius":{"datum":0.636,"type":"quantitative"},"radius2":{"datum":0.636}}},
 {"data":{"name":"one"},"mark":{"type":"point","filled":true,"size":196,"color":"#666666","opacity":1,"shape":"M -0.5 -1 L 0 1 L 0.5 -1 Z","angle":8},
  "encoding":{"x":{"datum":-1.3715,"type":"quantitative","axis":null},"y":{"datum":0.8658,"type":"quantitative","axis":null}}},
 {"data":{"name":"one"},"mark":{"type":"text","text":"ϕ","font":"Liberation Serif","fontStyle":"italic","fontSize":32,"align":"center","baseline":"middle","color":"#3a3a3a"},
  "encoding":{"x":{"datum":-1.383,"type":"quantitative","axis":null},"y":{"datum":1.281,"type":"quantitative","axis":null}}}
]}
],
"resolve":{"scale":{"x":"independent","y":"independent","radius":"independent"},"axis":{"x":"independent","y":"independent"}}
}
